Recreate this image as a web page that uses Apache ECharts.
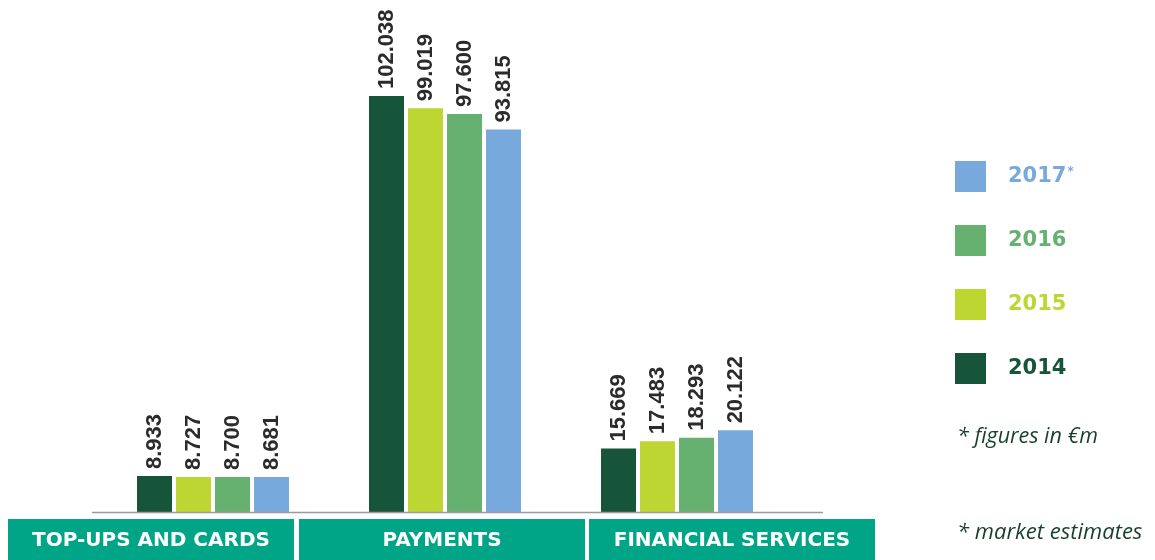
<!DOCTYPE html>
<html>
<head>
<meta charset="utf-8">
<script src="https://cdn.jsdelivr.net/npm/echarts@6/dist/echarts.min.js"></script>
<style>
html,body{margin:0;padding:0;background:#fff;}
#chart{width:1155px;height:560px;}
</style>
</head>
<body>
<div id="chart"></div>
<script>
const categories = ['TOP-UPS AND CARDS', 'PAYMENTS', 'FINANCIAL SERVICES'];
const years = ['2014', '2015', '2016', '2017'];
const v2014 = [8.933, 102.038, 15.669];
const v2015 = [8.727, 99.019, 17.483];
const v2016 = [8.700, 97.600, 18.293];
const v2017 = [8.681, 93.815, 20.122];
const seriesValues = [v2014, v2015, v2016, v2017];
const notes = ['* figures in €m', '* market estimates'];

const colors = ['#17553a', '#bdd631', '#66b070', '#78a9dc'];
const boxLayout = [[8, 286], [299, 286], [589, 286]];

const fmt = v => v.toFixed(3);

const chart = echarts.init(document.getElementById('chart'), null, {renderer: 'canvas'});

const series = years.map((y, i) => ({
  name: y,
  type: 'bar',
  data: seriesValues[i],
  barWidth: 35,
  barGap: '11.4%',
  itemStyle: {color: colors[i]},
  label: {
    show: true,
    position: 'top',
    rotate: 90,
    align: 'left',
    verticalAlign: 'middle',
    distance: 7,
    formatter: p => fmt(p.value),
    fontFamily: 'Liberation Sans',
    fontWeight: 'bold',
    fontSize: 22,
    color: '#2b2b2b'
  },
  emphasis: {disabled: true}
}));

const graphics = [];
graphics.push({
  type: 'line', z: 10,
  shape: {x1: 92, y1: 512.5, x2: 823, y2: 512.5},
  style: {stroke: '#9a9a9a', lineWidth: 1.5}
});
categories.forEach((c, i) => {
  const [x, w] = boxLayout[i];
  graphics.push({
    type: 'rect',
    shape: {x: x, y: 519, width: w, height: 45},
    style: {fill: '#00a587'}
  });
  graphics.push({
    type: 'text',
    x: x + w / 2, y: 541,
    style: {
      text: c, fill: '#ffffff', align: 'center', verticalAlign: 'middle',
      font: 'bold 20px "DejaVu Sans"'
    }
  });
});
graphics.push({
  type: 'text', x: 957, y: 437,
  style: {text: notes[0], fill: '#173f2d', verticalAlign: 'middle',
    font: 'italic 21.5px "Open Sans"'}
});
graphics.push({
  type: 'text', x: 957, y: 533,
  style: {text: notes[1], fill: '#173f2d', verticalAlign: 'middle',
    font: 'italic 22px "Open Sans"'}
});

chart.setOption({
  animation: false,
  grid: {left: 97, width: 696, top: 63.5, bottom: 47.5},
  xAxis: {
    type: 'category',
    data: categories,
    axisLine: {show: false},
    axisTick: {show: false},
    axisLabel: {show: false}
  },
  yAxis: {
    type: 'value', min: 0, max: 110,
    show: false,
    splitLine: {show: false}
  },
  legend: {
    orient: 'vertical',
    left: 955, top: 161,
    padding: 0,
    itemWidth: 31, itemHeight: 31,
    itemGap: 33,
    icon: 'rect',
    selectedMode: false,
    data: years.slice().reverse().map(y => ({
      name: y,
      textStyle: {color: colors[years.indexOf(y)]}
    })),
    formatter: name => name === '2017' ? '{y|' + name + '}{s|*}' : '{y|' + name + '}',
    textStyle: {
      fontFamily: 'DejaVu Sans', fontWeight: 'bold', fontSize: 21,
      padding: [0, 0, 0, 17],
      rich: {
        y: {fontFamily: 'DejaVu Sans', fontWeight: 'bold', fontSize: 21},
        s: {fontFamily: 'DejaVu Sans', fontWeight: 'bold', fontSize: 12, verticalAlign: 'top', padding: [0, 0, 10, 1]}
      }
    }
  },
  series: series,
  graphic: graphics
});
</script>
</body>
</html>
